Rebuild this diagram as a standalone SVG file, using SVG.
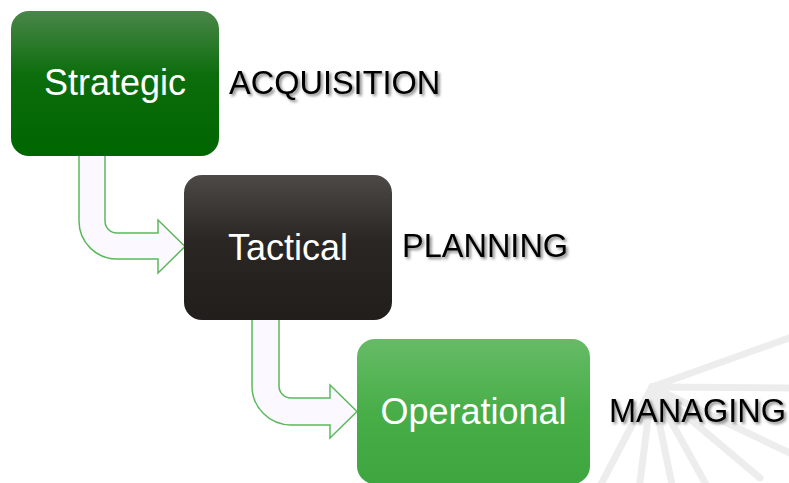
<svg xmlns="http://www.w3.org/2000/svg" width="789" height="483" viewBox="0 0 789 483">
  <defs>
    <linearGradient id="gStrat" x1="0" y1="0" x2="0" y2="1">
      <stop offset="0" stop-color="#4a864a"/>
      <stop offset="0.45" stop-color="#0b6d0b"/>
      <stop offset="1" stop-color="#006600"/>
    </linearGradient>
    <linearGradient id="gTact" x1="0" y1="0" x2="0" y2="1">
      <stop offset="0" stop-color="#4c4a47"/>
      <stop offset="0.45" stop-color="#2a2623"/>
      <stop offset="1" stop-color="#221e1b"/>
    </linearGradient>
    <linearGradient id="gOper" x1="0" y1="0" x2="0" y2="1">
      <stop offset="0" stop-color="#66bb66"/>
      <stop offset="0.5" stop-color="#48ae48"/>
      <stop offset="1" stop-color="#3ea63e"/>
    </linearGradient>
    <filter id="shadow" x="-10%" y="-30%" width="130%" height="160%">
      <feDropShadow dx="2" dy="2" stdDeviation="1.4" flood-color="#000" flood-opacity="0.5"/>
    </filter>
  </defs>
  <style>
    .wm { stroke: #ededed; stroke-width: 7; stroke-linecap: round; fill: none; }
    .box-label { font-family: "Liberation Sans", Arial, sans-serif; fill: #ffffff; text-anchor: middle; font-size: 36px; }
    .side { font-family: "Liberation Sans", Arial, sans-serif; font-size: 32.5px; fill: #000000; filter: url(#shadow); }
    .arrow { fill: #fbf9ff; stroke: #5cb85c; stroke-width: 1.5; stroke-linejoin: miter; }
  </style>

  <g id="watermark">
    <line class="wm" x1="652" y1="387" x2="800" y2="334"/>
    <line class="wm" x1="652" y1="387" x2="800" y2="388"/>
    <line class="wm" x1="652" y1="387" x2="800" y2="458"/>
    <line class="wm" x1="652" y1="387" x2="760" y2="478"/>
    <line class="wm" x1="652" y1="387" x2="709" y2="490"/>
    <line class="wm" x1="652" y1="387" x2="673" y2="490"/>
    <line class="wm" x1="652" y1="387" x2="639" y2="490"/>
    <line class="wm" x1="652" y1="387" x2="598" y2="490"/>
  </g>

  <g id="connectors">
    <path class="arrow" d="M79,150 V221 A38,38 0 0 0 117,259 H158 V273 L185,246.5 L158,220 V233 H117 A12,12 0 0 1 105,221 V150 Z"/>
    <path class="arrow" d="M252,314 V386 A39,39 0 0 0 291,425 H330 V438 L357,411.5 L330,385 V398 H291 A12,12 0 0 1 279,386 V314 Z"/>
  </g>

  <g id="strategic">
    <rect x="11" y="11" width="208" height="145" rx="18" fill="url(#gStrat)"/>
    <text class="box-label" x="115" y="95">Strategic</text>
  </g>
  <text class="side" x="229" y="94">ACQUISITION</text>

  <g id="tactical">
    <rect x="184" y="175" width="208" height="145" rx="18" fill="url(#gTact)"/>
    <text class="box-label" x="288" y="260">Tactical</text>
  </g>
  <text class="side" x="402" y="257">PLANNING</text>

  <g id="operational">
    <rect x="357" y="339" width="233" height="145" rx="18" fill="url(#gOper)"/>
    <text class="box-label" x="473.5" y="424">Operational</text>
  </g>
  <text class="side" x="609" y="422">MANAGING</text>
</svg>
